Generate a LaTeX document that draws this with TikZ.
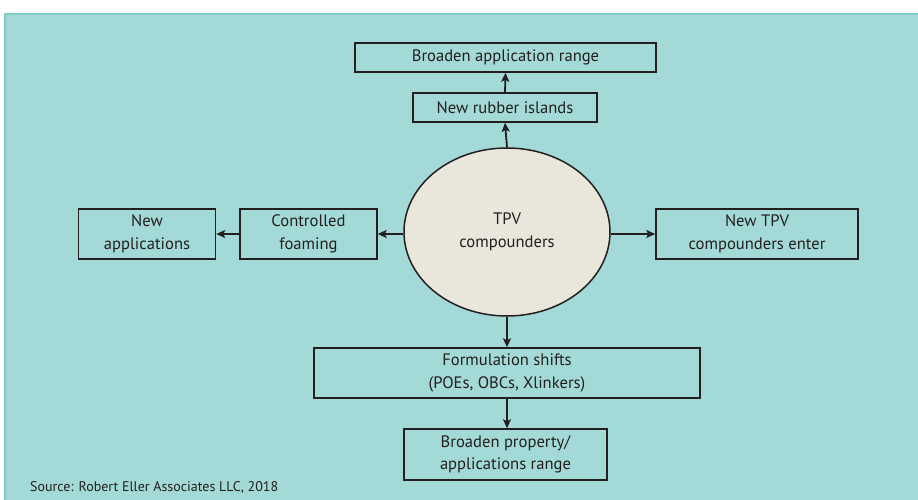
\documentclass[tikz,border=0pt]{standalone}
\usepackage{fontspec}
\setmainfont{PT Sans}
\usetikzlibrary{shapes.geometric,arrows.meta}
\definecolor{panel}{HTML}{A3D9D6}
\definecolor{panelborder}{HTML}{7DCCC6}
\definecolor{ink}{HTML}{231F20}
\definecolor{beige}{HTML}{E9E6DB}
\begin{document}
\begin{tikzpicture}[x=1pt,y=-1pt,
  box/.style={draw=ink,line width=1.5pt,fill=panel,inner sep=0pt,align=center,font=\fontsize{16.6}{22.5}\selectfont,text=ink},
  conn/.style={draw=ink,line width=1.8pt,-{Stealth[length=9pt,width=8pt,inset=2pt]}}]
\useasboundingbox (0,0) rectangle (918,500);
\fill[white] (0,0) rectangle (918,500);
\fill[panel] (5,14) rectangle (918,500);
\draw[panelborder,line width=1.5pt] (5,500) -- (5,14) -- (918,14);
\node[box,minimum width=301pt,minimum height=29pt] (bar) at (505.5,57.5) {Broaden application range};
\node[box,minimum width=184pt,minimum height=29pt] (nri) at (505,107.5) {New rubber islands};
\node[ellipse,draw=ink,line width=1.5pt,fill=beige,minimum width=206pt,minimum height=168pt,inner sep=0pt,align=center,font=\fontsize{16.6}{22.5}\selectfont,text=ink] (tpv) at (507,232) {TPV\\compounders};
\node[box,minimum width=137pt,minimum height=50pt] (na) at (147,234) {New\\applications};
\node[box,minimum width=137pt,minimum height=50pt] (cf) at (308.5,234) {Controlled\\foaming};
\node[box,minimum width=202pt,minimum height=50pt] (ntc) at (757,234) {New TPV\\compounders enter};
\node[box,minimum width=386pt,minimum height=50pt] (fs) at (507,373) {Formulation shifts\\(POEs, OBCs, Xlinkers)};
\node[box,minimum width=203pt,minimum height=51pt] (bp) at (505.5,454.5) {Broaden property/\\applications range};
\draw[conn] (tpv.north) -- (nri.south);
\draw[conn] (nri.north) -- (bar.south);
\draw[conn] (cf.east -| tpv.west) -- (cf.east);
\draw[conn] (cf.west) -- (na.east);
\draw[conn] (ntc.west -| tpv.east) -- (ntc.west);
\draw[conn] (tpv.south) -- (tpv.south |- fs.north);
\draw[conn] (tpv.south |- fs.south) -- (tpv.south |- bp.north);
\node[anchor=base west,font=\fontsize{14}{16}\selectfont,text=ink,inner sep=0pt] (src) at (30,491) {Source: Robert Eller Associates LLC, 2018};
\end{tikzpicture}
\end{document}
